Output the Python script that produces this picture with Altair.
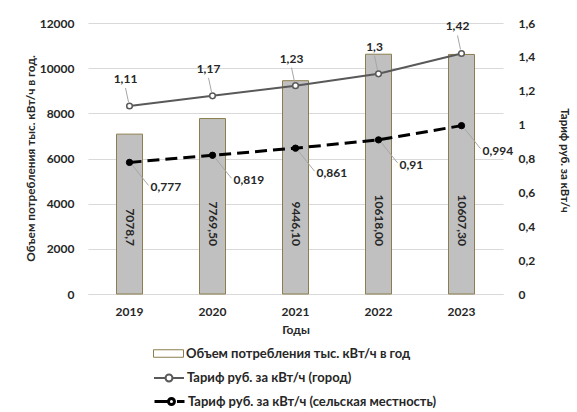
import altair as alt
import pandas as pd

# ---- data ----
years = ["2019", "2020", "2021", "2022", "2023"]
consumption = [7078.7, 7769.50, 9446.10, 10618.00, 10607.30]
consumption_labels = ["7078,7", "7769,50", "9446,10", "10618,00", "10607,30"]
tariff_city = [1.11, 1.17, 1.23, 1.3, 1.42]
tariff_rural = [0.777, 0.819, 0.861, 0.91, 0.994]

left_ticks = [0, 2000, 4000, 6000, 8000, 10000, 12000]
right_ticks = [0, 0.2, 0.4, 0.6, 0.8, 1.0, 1.2, 1.4, 1.6]

series_bar = "Объем потребления тыс. кВт/ч в год"
series_city = "Тариф руб. за кВт/ч (город)"
series_rural = "Тариф руб. за кВт/ч (сельская местность)"

left_title = "Объем потребления тыс. кВт/ч в год."
right_title = "Тариф руб. за кВт/ч"
x_title = "Годы"

df = pd.DataFrame({
    "year": years,
    "cons": consumption,
    "cons_label": consumption_labels,
    "city": tariff_city,
    "rural": tariff_rural,
})

FONT = "Lato"
TXT = "#262626"
GRID = "#d9d9d9"
BAR_FILL = "#c0c0c0"
BAR_STROKE = "#8c7e4e"
CITY = "#595959"
RURAL = "#000000"

base = alt.Chart(df)

x_axis = alt.Axis(title=x_title, labelAngle=0, ticks=False, domainColor=GRID,
                  labelPadding=12, titlePadding=7)
x_scale = alt.Scale(paddingInner=0, paddingOuter=0)


def X():
    return alt.X("year:N", axis=x_axis, scale=x_scale, bandPosition=0.5)


left_axis = alt.Axis(values=left_ticks, format="d", grid=True, gridColor=GRID,
                     domain=False, ticks=False, labelPadding=14, title=left_title,
                     titleX=-58, titleY=135, titleAngle=-90, titleBaseline="middle",
                     titleAlign="center", titleFontSize=11.8)
left_scale = alt.Scale(domain=[0, 12000])

right_axis = alt.Axis(values=right_ticks, orient="right", grid=False, domain=False,
                      ticks=False, labelPadding=15, title=right_title,
                      labelExpr="replace(format(datum.value, '.1~f'), '.', ',')",
                      titleX=60, titleY=137, titleAngle=90, titleBaseline="middle",
                      titleAlign="center", titleFontSize=11.5)
right_scale = alt.Scale(domain=[0, 1.6])


def YR(field):
    return alt.Y(f"{field}:Q", axis=right_axis, scale=right_scale)


# ---- bars (left axis) ----
bars = base.mark_bar(size=26, fill=BAR_FILL, stroke=BAR_STROKE, strokeWidth=1).encode(
    x=X(),
    y=alt.Y("cons:Q", axis=left_axis, scale=left_scale),
)
bar_text = base.mark_text(angle=90, align="right", baseline="middle", dx=-48,
                          font=FONT, fontWeight="bold", fontSize=12, color=TXT).encode(
    x=X(),
    y=alt.YDatum(0, axis=left_axis, scale=left_scale),
    text="cons_label:N",
)
left_group = alt.layer(bars, bar_text)

# ---- tariff lines (right axis) ----
lbl = base.transform_calculate(
    city_lbl="replace(toString(datum.city), '.', ',')",
    rural_lbl="replace(toString(datum.rural), '.', ',')",
)

city_leader = base.mark_rule(color="#a6a6a6", strokeWidth=1, xOffset=-1, yOffset=-4,
                             x2Offset=-4, y2Offset=-18).encode(
    x=X(), x2=alt.X2("year:N", bandPosition=0.5), y=YR("city"), y2=alt.Y2("city:Q"))
rural_leader = base.mark_rule(color="#a6a6a6", strokeWidth=1, xOffset=3, yOffset=3,
                              x2Offset=19, y2Offset=23).encode(
    x=X(), x2=alt.X2("year:N", bandPosition=0.5), y=YR("rural"), y2=alt.Y2("rural:Q"))

city_line = base.mark_line(color=CITY, strokeWidth=2).encode(x=X(), y=YR("city"))
rural_line = base.mark_line(color=RURAL, strokeWidth=3, strokeDash=[12, 6]).encode(
    x=X(), y=YR("rural"))
city_pts = base.mark_point(shape="circle", size=32, filled=True, fill="white",
                           stroke=CITY, strokeWidth=1.5, opacity=1).encode(
    x=X(), y=YR("city"))
rural_pts = base.mark_point(shape="circle", size=40, filled=True, fill=RURAL,
                            stroke=RURAL, strokeWidth=1, opacity=1).encode(
    x=X(), y=YR("rural"))
city_text = lbl.mark_text(dx=-4, dy=-27, align="center", baseline="middle", font=FONT,
                          fontWeight="bold", fontSize=12, color=TXT).encode(
    x=X(), y=YR("city"), text="city_lbl:N")
rural_text = lbl.mark_text(dx=21, dy=25, align="left", baseline="middle", font=FONT,
                           fontWeight="bold", fontSize=12, color=TXT).encode(
    x=X(), y=YR("rural"), text="rural_lbl:N")

right_group = alt.layer(city_leader, rural_leader, city_line, rural_line,
                        city_pts, rural_pts, city_text, rural_text)

# ---- legend entries ----
PATH_BAR = "M-1,-0.25L1,-0.25L1,0.25L-1,0.25Z"
PATH_CITY = ("M-1,0L-0.23,0M0.23,0L1,0M-0.23,0A0.23,0.23 0 1,0 0.23,0"
             "A0.23,0.23 0 1,0 -0.23,0Z")
PATH_RURAL = ("M-1,0L0,0M0.5,0L1,0M-0.07,0A0.2,0.2 0 1,0 0.33,0"
              "A0.2,0.2 0 1,0 -0.07,0Z")


def legend_layer(name, path, fill, stroke, sw, ly):
    return base.transform_filter("false").transform_calculate(s=f"'{name}'").mark_point().encode(
        shape=alt.Shape("s:N", scale=alt.Scale(domain=[name], range=[path]),
                        legend=alt.Legend(title=None, orient="none", legendX=65, legendY=ly,
                                          symbolSize=900, symbolFillColor=fill,
                                          symbolStrokeColor=stroke, symbolStrokeWidth=sw,
                                          symbolOpacity=1, labelFont=FONT, labelFontSize=13,
                                          labelFontWeight="bold", labelColor=TXT,
                                          labelOffset=2, padding=0, labelLimit=500))
    )


leg_bar = legend_layer(series_bar, PATH_BAR, BAR_FILL, BAR_STROKE, 1, 315)
leg_city = legend_layer(series_city, PATH_CITY, "white", CITY, 2, 339)
leg_rural = legend_layer(series_rural, PATH_RURAL, RURAL, RURAL, 3, 362)

chart = alt.layer(left_group, right_group, leg_bar, leg_city, leg_rural).resolve_scale(
    y="independent", shape="independent"
).resolve_legend(shape="independent").properties(
    width=415, height=271,
    autosize=alt.AutoSizeParams(type="none"),
    padding={"left": 88, "top": 23, "right": 74, "bottom": 118},
    background="white",
).configure_view(stroke=None).configure_axis(
    labelFont=FONT, labelFontSize=12, labelFontWeight="bold", labelColor=TXT,
    titleFont=FONT, titleFontSize=12, titleFontWeight="bold", titleColor=TXT,
)

chart.save("out.html", embed_options={"renderer": "svg", "actions": False})
